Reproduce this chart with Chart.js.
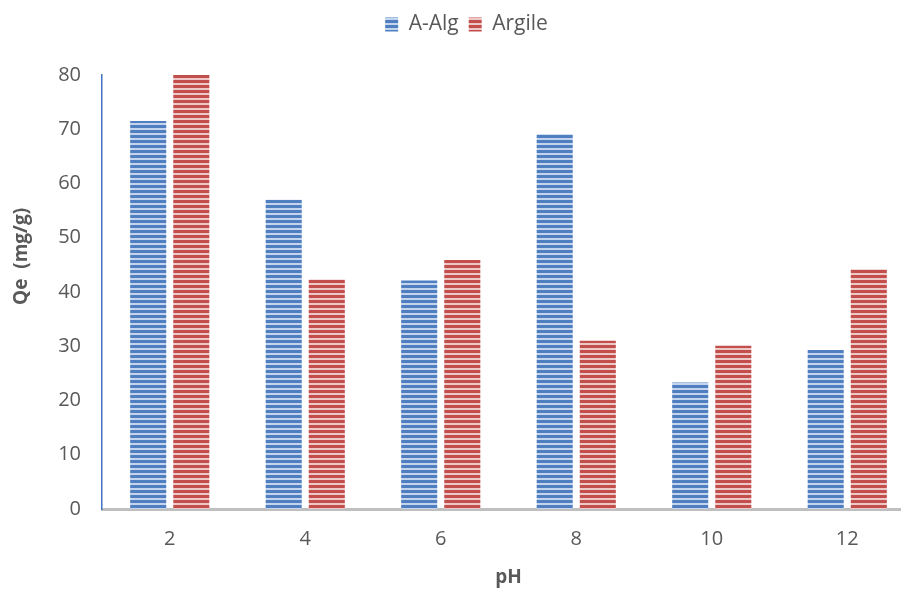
<!DOCTYPE html>
<html>
<head>
<meta charset="utf-8">
<script src="https://cdn.jsdelivr.net/npm/chart.js@4"></script>
<style>
html,body{margin:0;padding:0;background:#fff;overflow:hidden;width:901px;height:589px;}
#wrap{position:absolute;left:0;top:0;width:915px;height:589px;}
</style>
</head>
<body>
<div id="wrap"><canvas id="c" width="915" height="589"></canvas></div>
<script>
const categories = ['2', '4', '6', '8', '10', '12'];
const seriesNames = ['A-Alg', 'Argile'];
const aAlg = [71.5, 57.0, 42.1, 69.1, 23.3, 29.3];
const argile = [80.0, 42.3, 45.9, 31.0, 30.1, 44.2];
const yTicks = [0, 10, 20, 30, 40, 50, 60, 70, 80];
const xTitle = 'pH';
const yTitle = 'Qe  (mg/g)';

function stripes(dark, light) {
  const c = document.createElement('canvas');
  c.width = 8; c.height = 5;
  const g = c.getContext('2d');
  g.fillStyle = light; g.fillRect(0, 0, 8, 5);
  g.fillStyle = dark; g.fillRect(0, 0, 8, 3);
  return g.createPattern(c, 'repeat');
}
const ctx = document.getElementById('c').getContext('2d');
const bluePat = stripes('#4f7fc0', '#c3d4ec');
const redPat = stripes('#c24f4c', '#eec8c7');

const FONT = "'Open Sans', 'Liberation Sans', sans-serif";
const TXT = '#595959';

const legendFit = {
  id: 'legendFit',
  beforeInit(chart) {
    const orig = chart.legend.fit;
    chart.legend.fit = function () { orig.call(this); this.height = 71; };
  },
  afterLayout(chart) {
    chart.legend.left += 9;
    chart.legend.right += 9;
  }
};

const yTitlePlugin = {
  id: 'yTitlePlugin',
  afterDraw(chart) {
    const a = chart.chartArea;
    const c = chart.ctx;
    c.save();
    c.translate(a.left - 80, a.top + (a.bottom - a.top) * 0.418);
    c.rotate(-Math.PI / 2);
    c.fillStyle = TXT;
    c.font = "bold 19px " + FONT;
    c.textAlign = 'center';
    c.textBaseline = 'middle';
    c.fillText(yTitle, 0, 0);
    c.restore();
  }
};

new Chart(ctx, {
  type: 'bar',
  data: {
    labels: categories,
    datasets: [
      { label: seriesNames[0], data: aAlg, backgroundColor: bluePat, borderWidth: 0,
        categoryPercentage: 0.636, barPercentage: 0.837 },
      { label: seriesNames[1], data: argile, backgroundColor: redPat, borderWidth: 0,
        categoryPercentage: 0.636, barPercentage: 0.837 }
    ]
  },
  options: {
    responsive: false,
    animation: false,
    layout: { padding: { left: 0, right: 0, top: 4, bottom: 0 } },
    plugins: {
      legend: {
        position: 'top',
        align: 'center',
        labels: {
          boxWidth: 13, boxHeight: 14, padding: 10,
          color: TXT, font: { family: FONT, size: 21 }
        }
      },
      tooltip: { enabled: false }
    },
    scales: {
      x: {
        grid: { display: false, drawTicks: false },
        border: { display: true, color: '#bfbfbf', width: 3 },
        ticks: { color: TXT, font: { family: FONT, size: 20 }, padding: 18 },
        title: { display: true, text: xTitle, color: TXT,
                 font: { family: FONT, size: 19, weight: 'bold' }, padding: { top: 0, bottom: 0 } },
        afterFit(s) { s.height = 80; }
      },
      y: {
        min: 0, max: 80,
        afterBuildTicks(s) { s.ticks = yTicks.map(v => ({ value: v })); },
        grid: { display: false, drawTicks: false },
        border: { display: true, color: '#4472c4', width: 1.5 },
        ticks: { color: TXT, font: { family: FONT, size: 20 }, padding: 21 },
        title: { display: false },
        afterFit(s) { s.width = 102; }
      }
    }
  },
  plugins: [legendFit, yTitlePlugin]
});
</script>
</body>
</html>
